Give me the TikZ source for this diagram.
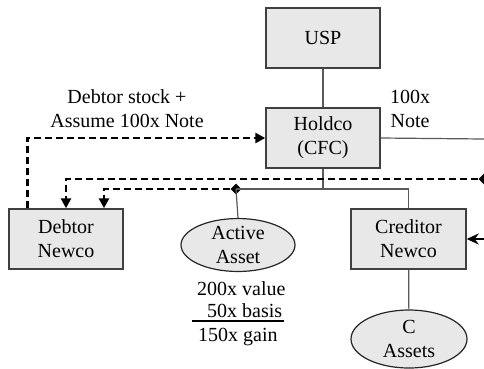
\documentclass[tikz,border=0pt]{standalone}
\usepackage{fontspec}
\setmainfont{Liberation Serif}
\usetikzlibrary{arrows.meta,shapes.geometric}
\begin{document}
\begin{tikzpicture}[x=1pt,y=-1pt,
  font=\fontsize{20}{24}\selectfont,
  entity/.style={draw=black!75,line width=1.4pt,fill=black!9,align=center,
    minimum width=114pt,minimum height=60pt,inner sep=2pt},
  asset/.style={ellipse,draw=black!85,line width=1.2pt,fill=black!9,align=center,
    inner sep=0pt},
  label/.style={align=center,inner sep=0pt},
  figure/.style={anchor=west,inner sep=0pt},
  link/.style={draw=black!65,line width=1.2pt},
  transfer/.style={draw=black,line width=2.6pt,dash pattern=on 7pt off 4pt,
    -{Triangle[length=10pt,width=10pt]}},
  mover/.style={draw=black,line width=2.2pt,-{Stealth[length=12pt,width=11pt]}},
  knot/.style={diamond,fill=black,inner sep=0pt,minimum width=11pt,minimum height=11pt}]

\useasboundingbox (0,0) rectangle (484,368);

% entities
\node[entity] (usp) at (323,38) {USP};
\node[entity] (holdco) at (323,138) {Holdco\\(CFC)};
\node[entity] (debtor) at (66,239) {Debtor\\Newco};
\node[entity,minimum width=115pt] (creditor) at (408.5,239) {Creditor\\Newco};
\node[asset,minimum width=114pt,minimum height=50pt] (active) at (238,245) {Active\\Asset};
\node[asset,minimum width=116pt,minimum height=58pt] (cassets) at (409,339) {C\\Assets};

% annotations
\node[label] (stocknote) at (127,109) {Debtor stock +\\Assume 100x Note};
\node[label] (notelabel) at (410,109) {100x\\Note};
\node[figure] (value) at (197,289) {200x value};
\node[figure] (basis) at (207,311) {50x basis};
\node[figure] (gain) at (198,337) {150x gain};
\coordinate (ruleL) at (192,321);
\coordinate (ruleR) at (284,321);
\draw[line width=1.2pt] (ruleL) -- (ruleR);

% junctions
\node[knot] (dia) at (236,189) {};
\node[knot] (diaR) at (484,179) {};
\coordinate (split) at (323,189);
\coordinate (noteEnd) at (484,139);
\coordinate (inflow) at (484,239);

% ownership lines
\draw[link] (usp) -- (holdco);
\draw[link] (holdco.east) -- (noteEnd);
\draw[link] (holdco.south) -- (split);
\draw[link] (dia.center) -- (split) -| (creditor.north);
\draw[link] (dia.center) -- (active.north);
\draw[link] (creditor) -- (cassets);

% transfers
\draw[transfer] ([xshift=19pt]debtor.north west) |- (holdco.west);
\draw[transfer] (diaR) -| (debtor.north);
\draw[transfer] (dia) -| ([xshift=38pt]debtor.north);
\draw[mover] (inflow) -- (creditor.east);
\end{tikzpicture}
\end{document}
